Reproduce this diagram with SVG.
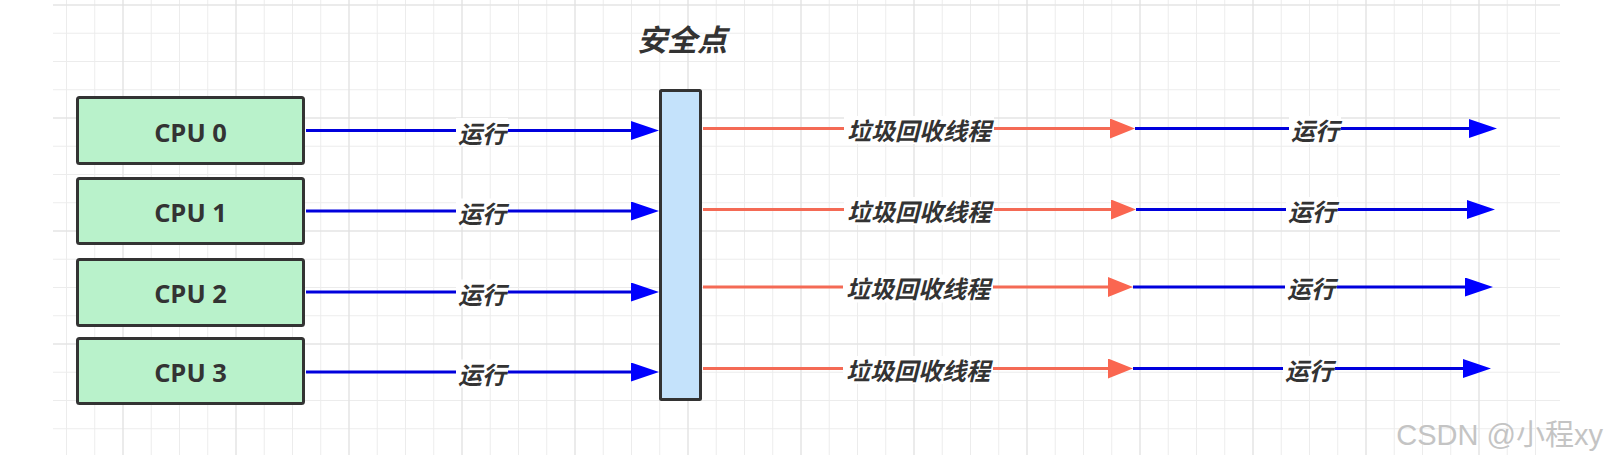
<svg xmlns="http://www.w3.org/2000/svg" width="1608" height="463" viewBox="0 0 1608 463">
<style>
.box{fill:#b9f2cb;stroke:#333333;stroke-width:3}
.bar{fill:#c4e2fb;stroke:#333333;stroke-width:3}
.cpu{font-family:"Open Sans","Liberation Sans","Noto Sans CJK SC",sans-serif;font-weight:bold;font-size:25.5px;fill:#333333;text-anchor:middle}
.lbl{font-family:"Noto Sans CJK SC","Noto Sans CJK JP",sans-serif;font-weight:bold;font-style:italic;font-size:24px;fill:#333333;text-anchor:middle}
.title{font-family:"Noto Sans CJK SC","Noto Sans CJK JP",sans-serif;font-weight:bold;font-style:italic;font-size:30px;fill:#333333;text-anchor:middle}
.blue{stroke:#0000dd;stroke-width:3;fill:none}
.red{stroke:#f46a55;stroke-width:3;fill:none}
.bg{fill:#ffffff}
.wm{font-family:"Liberation Sans","Noto Sans CJK SC",sans-serif;font-size:29px;fill:#c4c4c4;text-anchor:end}
</style>
<defs>
<pattern id="minor" x="9.5" y="4.5" width="28.25" height="28.25" patternUnits="userSpaceOnUse">
<rect x="0" y="0" width="1" height="28.25" fill="#ececec"/>
<rect x="0" y="0" width="28.25" height="1" fill="#ececec"/>
</pattern>
<pattern id="major" x="9.5" y="4.5" width="113" height="113" patternUnits="userSpaceOnUse">
<rect x="0" y="0" width="1" height="113" fill="#e0e0e0"/>
<rect x="0" y="0" width="113" height="1" fill="#e0e0e0"/>
</pattern>
<marker id="ab" markerUnits="userSpaceOnUse" viewBox="0 0 28 19" markerWidth="28" markerHeight="19" refX="14" refY="9.5" orient="auto">
<path d="M0,0 L28,9.5 L0,19 Z" fill="#0000ff"/>
</marker>
<marker id="ar" markerUnits="userSpaceOnUse" viewBox="0 0 25 20" markerWidth="25" markerHeight="20" refX="11" refY="10" orient="auto">
<path d="M0,0 L25,10 L0,20 Z" fill="#fa6650"/>
</marker>
</defs>
<rect width="1608" height="463" fill="#ffffff"/>
<g id="grid">
<rect x="53" y="0" width="1507" height="455" fill="url(#minor)"/>
<rect x="53" y="0" width="1507" height="455" fill="url(#major)"/>
</g>
<g id="connectors">
<path class="blue" d="M306,130.5 H645" marker-end="url(#ab)"/>
<path class="blue" d="M306,211 H645" marker-end="url(#ab)"/>
<path class="blue" d="M306,292 H645" marker-end="url(#ab)"/>
<path class="blue" d="M306,372 H645" marker-end="url(#ab)"/>
<path class="red" d="M703,128.5 H1121" marker-end="url(#ar)"/>
<path class="red" d="M703,209.5 H1122" marker-end="url(#ar)"/>
<path class="red" d="M703,287 H1119" marker-end="url(#ar)"/>
<path class="red" d="M703,368.5 H1119" marker-end="url(#ar)"/>
<path class="blue" d="M1135,128.5 H1483" marker-end="url(#ab)"/>
<path class="blue" d="M1136,209.5 H1481" marker-end="url(#ab)"/>
<path class="blue" d="M1133,287 H1479" marker-end="url(#ab)"/>
<path class="blue" d="M1133,368.5 H1477" marker-end="url(#ab)"/>
<rect class="bg" x="456" y="118" width="52" height="28"/>
<text class="lbl" x="482" y="142.5">运行</text>
<rect class="bg" x="456" y="198.5" width="52" height="28"/>
<text class="lbl" x="482" y="223">运行</text>
<rect class="bg" x="456" y="279.5" width="52" height="28"/>
<text class="lbl" x="482" y="304">运行</text>
<rect class="bg" x="456" y="359.5" width="52" height="28"/>
<text class="lbl" x="482" y="384">运行</text>
<rect class="bg" x="844" y="116" width="150" height="28"/>
<text class="lbl" x="919" y="139.5">垃圾回收线程</text>
<rect class="bg" x="844" y="197" width="150" height="28"/>
<text class="lbl" x="919" y="220.5">垃圾回收线程</text>
<rect class="bg" x="843" y="274.5" width="150" height="28"/>
<text class="lbl" x="918" y="298">垃圾回收线程</text>
<rect class="bg" x="843" y="356" width="150" height="28"/>
<text class="lbl" x="918" y="379.5">垃圾回收线程</text>
<rect class="bg" x="1289" y="116" width="52" height="28"/>
<text class="lbl" x="1315" y="139.5">运行</text>
<rect class="bg" x="1286" y="197" width="52" height="28"/>
<text class="lbl" x="1312" y="220.5">运行</text>
<rect class="bg" x="1285" y="274.5" width="52" height="28"/>
<text class="lbl" x="1311" y="298">运行</text>
<rect class="bg" x="1283" y="356" width="52" height="28"/>
<text class="lbl" x="1309" y="379.5">运行</text>
</g>
<g id="cpu0">
<rect class="box" x="77.5" y="97.5" width="226" height="66" rx="2"/>
<text class="cpu" x="190.5" y="141.5">CPU 0</text>
</g>
<g id="cpu1">
<rect class="box" x="77.5" y="178.5" width="226" height="65" rx="2"/>
<text class="cpu" x="190.5" y="222">CPU 1</text>
</g>
<g id="cpu2">
<rect class="box" x="77.5" y="259.5" width="226" height="66" rx="2"/>
<text class="cpu" x="190.5" y="303">CPU 2</text>
</g>
<g id="cpu3">
<rect class="box" x="77.5" y="338.5" width="226" height="65" rx="2"/>
<text class="cpu" x="190.5" y="382">CPU 3</text>
</g>
<g id="safepoint">
<rect class="bar" x="660.5" y="90.5" width="40" height="309" rx="1"/>
</g>
<g id="safepoint-title">
<text class="title" x="682" y="51">安全点</text>
</g>
<text class="wm" x="1603" y="445">CSDN @小程xy</text>
</svg>
